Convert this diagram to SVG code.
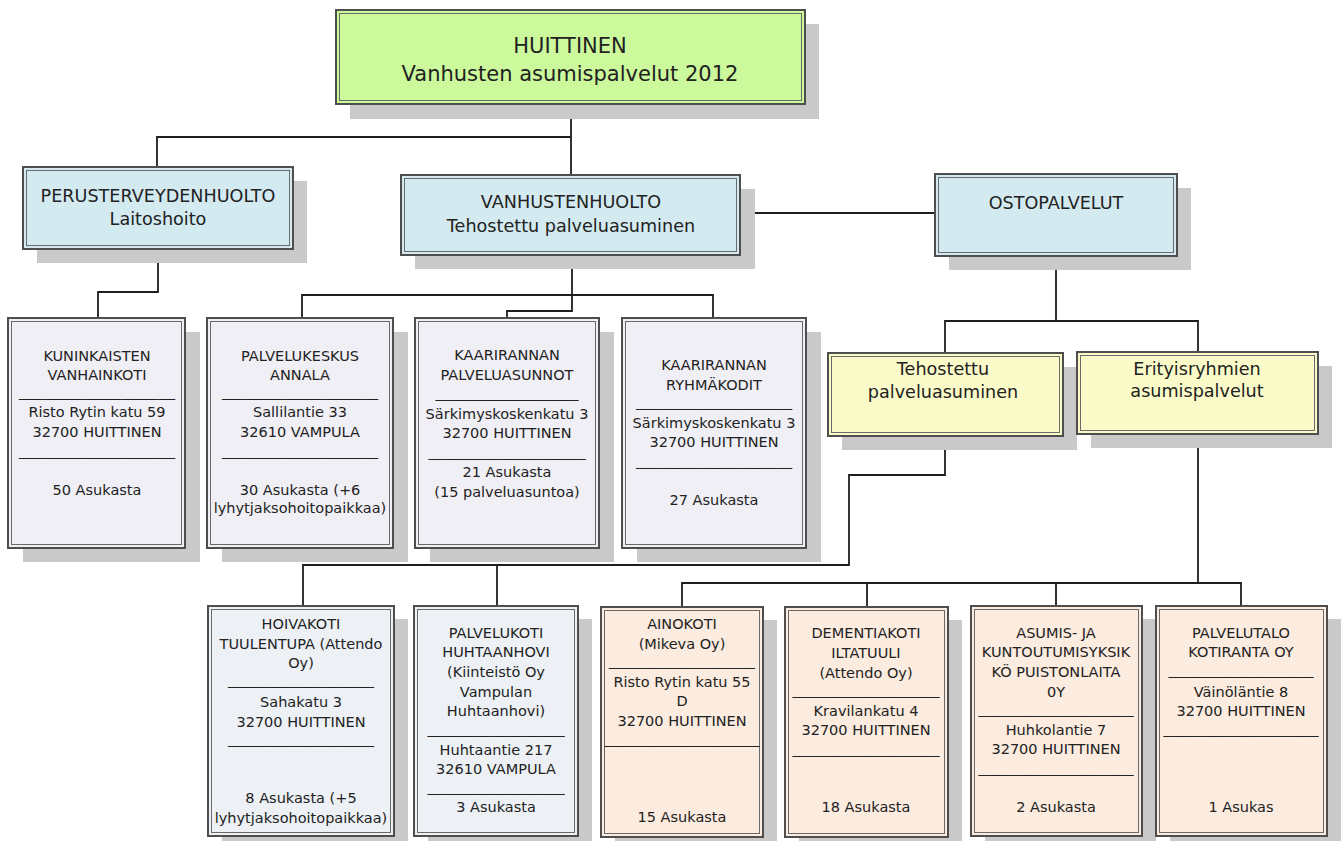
<svg xmlns="http://www.w3.org/2000/svg" width="1344" height="841" viewBox="0 0 1344 841">
<style>
.bg{fill:#ffffff}
.sh{fill:#c9c9c9}
.bx{stroke:#4e4e4e;stroke-width:2}
.in{fill:none;stroke:#6a6a6a;stroke-width:1}
.green{fill:#ccf99b}
.blue{fill:#d3eaf1}
.yellow{fill:#fbfbc9}
.gray{fill:#f0eff5}
.lblue{fill:#edf1f6}
.peach{fill:#fcebdf}
text{font-family:"DejaVu Sans","Liberation Sans",sans-serif;fill:#222;text-anchor:middle}
.t1{font-size:21px}
.t2{font-size:17.6px}
.t3{font-size:14.5px}
.con{fill:none;stroke:#1e1e1e;stroke-width:1.8}
</style>
<rect class="bg" x="0" y="0" width="1344" height="841"/>

<g id="connectors">
<path class="con" d="M571,104 V175 M571,137 H157 V167"/>
<path class="con" d="M740,213 H935"/>
<path class="con" d="M158,249 V292 H98 V318"/>
<path class="con" d="M572,255 V311 H507 V318 M302,318 V295 H713 V318"/>
<path class="con" d="M1056,256 V321 M945,353 V321 H1198 V352"/>
<path class="con" d="M945,436 V475 H849 V565 H303 V606 M497,565 V606"/>
<path class="con" d="M1198,434 V583 M682,607 V583 H1241 V606 M867,583 V607 M1056,583 V606"/>
</g>

<g id="n-huittinen">
<rect class="sh" x="350" y="24" width="469" height="95"/>
<rect class="bx green" x="336" y="10" width="469" height="94"/>
<rect class="in" x="339.5" y="13.5" width="462" height="87"/>
<text class="t1" x="570" y="53">HUITTINEN</text>
<text class="t1" x="570" y="81">Vanhusten asumispalvelut 2012</text>
</g>

<g id="n-perusterveydenhuolto">
<rect class="sh" x="37" y="181" width="270" height="82"/>
<rect class="bx blue" x="23" y="167" width="270" height="82"/>
<rect class="in" x="26.5" y="170.5" width="263" height="75"/>
<text class="t2" x="158" y="202">PERUSTERVEYDENHUOLTO</text>
<text class="t2" x="158" y="225">Laitoshoito</text>
</g>

<g id="n-vanhustenhuolto">
<rect class="sh" x="415" y="189" width="340" height="80"/>
<rect class="bx blue" x="401" y="175" width="339" height="80"/>
<rect class="in" x="404.5" y="178.5" width="332" height="73"/>
<text class="t2" x="571" y="208">VANHUSTENHUOLTO</text>
<text class="t2" x="571" y="232">Tehostettu palveluasuminen</text>
</g>

<g id="n-ostopalvelut">
<rect class="sh" x="949" y="188" width="242" height="82"/>
<rect class="bx blue" x="935" y="174" width="242" height="82"/>
<rect class="in" x="938.5" y="177.5" width="235" height="75"/>
<text class="t2" x="1056" y="209">OSTOPALVELUT</text>
</g>

<g id="n-tehostettu">
<rect class="sh" x="842" y="367" width="235" height="83"/>
<rect class="bx yellow" x="828" y="353" width="235" height="83"/>
<rect class="in" x="831.5" y="356.5" width="228" height="76"/>
<text class="t2" x="943" y="375">Tehostettu</text>
<text class="t2" x="943" y="398">palveluasuminen</text>
</g>

<g id="n-erityisryhmien">
<rect class="sh" x="1091" y="366" width="241" height="82"/>
<rect class="bx yellow" x="1077" y="352" width="241" height="82"/>
<rect class="in" x="1080.5" y="355.5" width="234" height="75"/>
<text class="t2" x="1197" y="375">Erityisryhmien</text>
<text class="t2" x="1197" y="397">asumispalvelut</text>
</g>

<g id="n-kuninkaisten">
<rect class="sh" x="23" y="332" width="177" height="230"/>
<rect class="bx gray" x="8" y="318" width="177" height="230"/>
<rect class="in" x="11.5" y="321.5" width="170" height="223"/>
<text class="t3" x="97" y="361">KUNINKAISTEN</text>
<text class="t3" x="97" y="380">VANHAINKOTI</text>
<text class="t3" x="97" y="397" textLength="156" lengthAdjust="spacingAndGlyphs">____________________</text>
<text class="t3" x="97" y="417">Risto Rytin katu 59</text>
<text class="t3" x="97" y="437">32700 HUITTINEN</text>
<text class="t3" x="97" y="456" textLength="156" lengthAdjust="spacingAndGlyphs">____________________</text>
<text class="t3" x="97" y="495">50 Asukasta</text>
</g>

<g id="n-annala">
<rect class="sh" x="222" y="332" width="186" height="230"/>
<rect class="bx gray" x="207" y="318" width="186" height="230"/>
<rect class="in" x="210.5" y="321.5" width="179" height="223"/>
<text class="t3" x="300" y="361">PALVELUKESKUS</text>
<text class="t3" x="300" y="380">ANNALA</text>
<text class="t3" x="300" y="397" textLength="156" lengthAdjust="spacingAndGlyphs">____________________</text>
<text class="t3" x="300" y="417">Sallilantie 33</text>
<text class="t3" x="300" y="437">32610 VAMPULA</text>
<text class="t3" x="300" y="456" textLength="156" lengthAdjust="spacingAndGlyphs">____________________</text>
<text class="t3" x="300" y="495">30 Asukasta (+6</text>
<text class="t3" x="300" y="513">lyhytjaksohoitopaikkaa)</text>
</g>

<g id="n-kaarirannan-palveluasunnot">
<rect class="sh" x="430" y="332" width="184" height="230"/>
<rect class="bx gray" x="415" y="318" width="184" height="230"/>
<rect class="in" x="418.5" y="321.5" width="177" height="223"/>
<text class="t3" x="507" y="360">KAARIRANNAN</text>
<text class="t3" x="507" y="380">PALVELUASUNNOT</text>
<text class="t3" x="507" y="398" textLength="143" lengthAdjust="spacingAndGlyphs">__________________</text>
<text class="t3" x="507" y="419">Särkimyskoskenkatu 3</text>
<text class="t3" x="507" y="438">32700 HUITTINEN</text>
<text class="t3" x="507" y="457" textLength="157" lengthAdjust="spacingAndGlyphs">____________________</text>
<text class="t3" x="507" y="477">21 Asukasta</text>
<text class="t3" x="507" y="497">(15 palveluasuntoa)</text>
</g>

<g id="n-kaarirannan-ryhmakodit">
<rect class="sh" x="637" y="332" width="184" height="230"/>
<rect class="bx gray" x="622" y="318" width="184" height="230"/>
<rect class="in" x="625.5" y="321.5" width="177" height="223"/>
<text class="t3" x="714" y="370">KAARIRANNAN</text>
<text class="t3" x="714" y="390">RYHMÄKODIT</text>
<text class="t3" x="714" y="407" textLength="156" lengthAdjust="spacingAndGlyphs">____________________</text>
<text class="t3" x="714" y="428">Särkimyskoskenkatu 3</text>
<text class="t3" x="714" y="447">32700 HUITTINEN</text>
<text class="t3" x="714" y="466" textLength="156" lengthAdjust="spacingAndGlyphs">____________________</text>
<text class="t3" x="714" y="505">27 Asukasta</text>
</g>

<g id="n-hoivakoti">
<rect class="sh" x="222" y="619" width="186" height="230"/>
<rect class="bx lblue" x="208" y="606" width="186" height="230"/>
<rect class="in" x="211.5" y="609.5" width="179" height="223"/>
<text class="t3" x="301" y="629">HOIVAKOTI</text>
<text class="t3" x="301" y="649">TUULENTUPA (Attendo</text>
<text class="t3" x="301" y="668">Oy)</text>
<text class="t3" x="301" y="685" textLength="146" lengthAdjust="spacingAndGlyphs">___________________</text>
<text class="t3" x="301" y="707">Sahakatu 3</text>
<text class="t3" x="301" y="727">32700 HUITTINEN</text>
<text class="t3" x="301" y="744" textLength="146" lengthAdjust="spacingAndGlyphs">___________________</text>
<text class="t3" x="301" y="803">8 Asukasta (+5</text>
<text class="t3" x="301" y="823">lyhytjaksohoitopaikkaa)</text>
</g>

<g id="n-huhtaanhovi">
<rect class="sh" x="428" y="619" width="164" height="230"/>
<rect class="bx lblue" x="414" y="606" width="164" height="230"/>
<rect class="in" x="417.5" y="609.5" width="157" height="223"/>
<text class="t3" x="496" y="638">PALVELUKOTI</text>
<text class="t3" x="496" y="657">HUHTAANHOVI</text>
<text class="t3" x="496" y="677">(Kiinteistö Oy</text>
<text class="t3" x="496" y="697">Vampulan</text>
<text class="t3" x="496" y="716">Huhtaanhovi)</text>
<text class="t3" x="496" y="734" textLength="137" lengthAdjust="spacingAndGlyphs">__________________</text>
<text class="t3" x="496" y="755">Huhtaantie 217</text>
<text class="t3" x="496" y="774">32610 VAMPULA</text>
<text class="t3" x="496" y="792" textLength="137" lengthAdjust="spacingAndGlyphs">__________________</text>
<text class="t3" x="496" y="812">3 Asukasta</text>
</g>

<g id="n-ainokoti">
<rect class="sh" x="615" y="620" width="162" height="230"/>
<rect class="bx peach" x="601" y="607" width="162" height="230"/>
<rect class="in" x="604.5" y="610.5" width="155" height="223"/>
<text class="t3" x="682" y="629">AINOKOTI</text>
<text class="t3" x="682" y="649">(Mikeva Oy)</text>
<text class="t3" x="682" y="666" textLength="146" lengthAdjust="spacingAndGlyphs">___________________</text>
<text class="t3" x="682" y="687">Risto Rytin katu 55</text>
<text class="t3" x="682" y="706">D</text>
<text class="t3" x="682" y="726">32700 HUITTINEN</text>
<text class="t3" x="682" y="744" textLength="155" lengthAdjust="spacingAndGlyphs">____________________</text>
<text class="t3" x="682" y="822">15 Asukasta</text>
</g>

<g id="n-iltatuuli">
<rect class="sh" x="799" y="620" width="163" height="230"/>
<rect class="bx peach" x="785" y="607" width="163" height="230"/>
<rect class="in" x="788.5" y="610.5" width="156" height="223"/>
<text class="t3" x="866" y="638">DEMENTIAKOTI</text>
<text class="t3" x="866" y="658">ILTATUULI</text>
<text class="t3" x="866" y="678">(Attendo Oy)</text>
<text class="t3" x="866" y="695" textLength="147" lengthAdjust="spacingAndGlyphs">___________________</text>
<text class="t3" x="866" y="716">Kravilankatu 4</text>
<text class="t3" x="866" y="735">32700 HUITTINEN</text>
<text class="t3" x="866" y="754" textLength="147" lengthAdjust="spacingAndGlyphs">___________________</text>
<text class="t3" x="866" y="812">18 Asukasta</text>
</g>

<g id="n-puistonlaita">
<rect class="sh" x="985" y="619" width="171" height="230"/>
<rect class="bx peach" x="971" y="606" width="171" height="230"/>
<rect class="in" x="974.5" y="609.5" width="164" height="223"/>
<text class="t3" x="1056" y="638">ASUMIS- JA</text>
<text class="t3" x="1056" y="657">KUNTOUTUMISYKSIK</text>
<text class="t3" x="1056" y="677">KÖ PUISTONLAITA</text>
<text class="t3" x="1056" y="697">0Y</text>
<text class="t3" x="1056" y="714" textLength="155" lengthAdjust="spacingAndGlyphs">____________________</text>
<text class="t3" x="1056" y="735">Huhkolantie 7</text>
<text class="t3" x="1056" y="754">32700 HUITTINEN</text>
<text class="t3" x="1056" y="773" textLength="155" lengthAdjust="spacingAndGlyphs">____________________</text>
<text class="t3" x="1056" y="812">2 Asukasta</text>
</g>

<g id="n-kotiranta">
<rect class="sh" x="1170" y="619" width="171" height="230"/>
<rect class="bx peach" x="1156" y="606" width="171" height="230"/>
<rect class="in" x="1159.5" y="609.5" width="164" height="223"/>
<text class="t3" x="1241" y="638">PALVELUTALO</text>
<text class="t3" x="1241" y="657">KOTIRANTA OY</text>
<text class="t3" x="1241" y="675" textLength="145" lengthAdjust="spacingAndGlyphs">___________________</text>
<text class="t3" x="1241" y="697">Väinöläntie 8</text>
<text class="t3" x="1241" y="716">32700 HUITTINEN</text>
<text class="t3" x="1241" y="734" textLength="155" lengthAdjust="spacingAndGlyphs">____________________</text>
<text class="t3" x="1241" y="812">1 Asukas</text>
</g>
</svg>
